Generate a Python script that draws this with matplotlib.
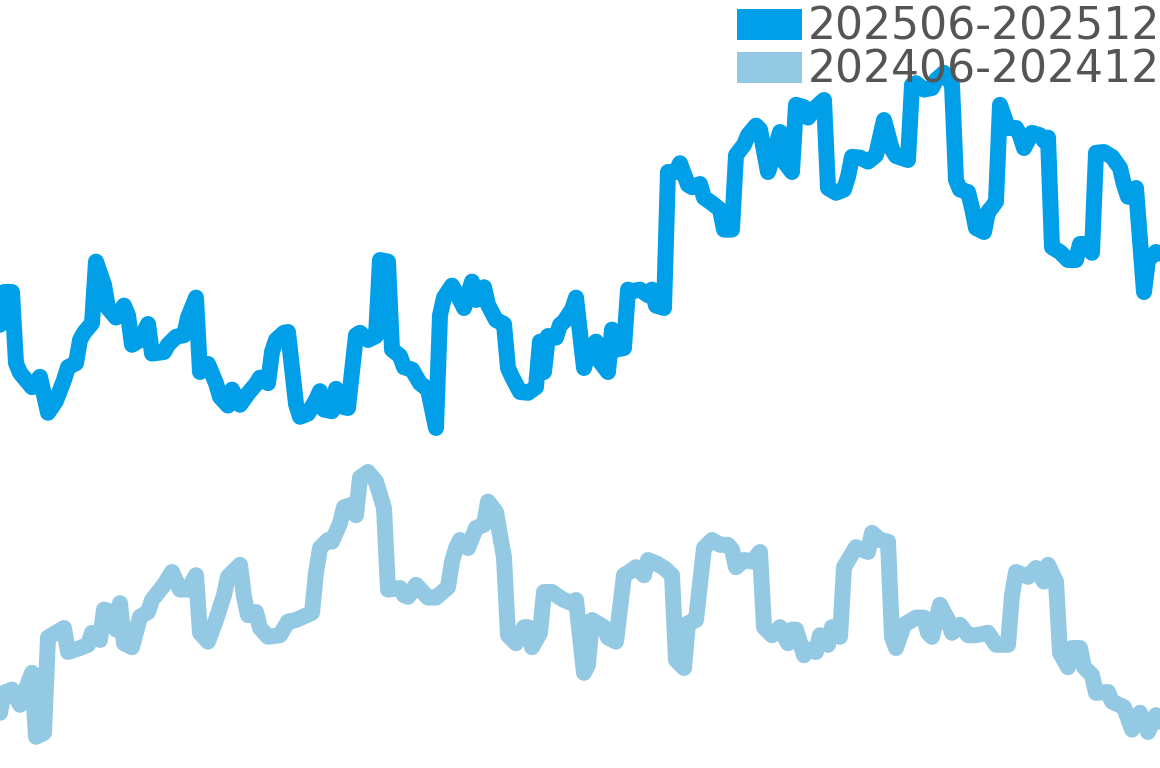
import matplotlib
matplotlib.use("Agg")
import matplotlib.pyplot as plt
from matplotlib.patches import Patch

# series labels
labels = ["202506-202512", "202406-202412"]

# 202506-202512 (day index, value)
days_2025 = [0,1,3,4,5,8,10,12,14,16,17,19,20,21,23,24,26,27,29,31,32,33,35,37,38,41,42,44,46,47,49,50,52,54,55,57,58,60,62,64,65,67,68,69,71,72,74,75,77,79,80,81,83,84,86,87,89,90,92,94,95,97,98,100,101,103,105,107,109,110,111,113,115,116,118,119,121,122,124,126,127,128,130,132,134,135,136,137,139,140,141,143,144,146,147,149,150,152,153,154,156,157,158,160,162,163,164,166,167,169,170,172,173,175,176,178,180,181,183,184,186,187,189,190,192,193,195,196,198,199,201,202,204,206,207,209,211,212,213,215,217,219,221,223,224,227,228,229,231,233,234,236,238,239,240,242,243,244,246,247,248,249,250,252,254,255,256,258,260,261,262,263,265,267,269,270,271,273,274,276,278,280,281,282,284,286,287,289,290]
vals_2025 = [55.4,59.5,59.5,50.6,49.4,47.6,48.9,44.4,45.9,48.5,50.1,50.6,53.5,54.4,55.6,63.3,60.4,57.5,56.3,57.8,56.6,52.9,53.5,55.5,51.8,52.0,52.9,53.9,54.1,56.3,58.8,49.5,50.5,48.1,46.4,45.3,47.3,45.4,46.8,48.0,48.8,48.1,52.0,53.5,54.4,54.5,45.5,43.9,44.3,46.0,47.1,44.8,44.6,47.4,45.1,45.0,54.1,54.4,53.5,54.0,63.5,63.3,52.3,51.5,50.1,49.8,48.1,47.3,42.5,56.6,58.8,60.3,58.5,57.5,60.8,58.5,60.1,57.9,56.0,55.5,50.0,48.9,47.0,46.9,47.6,53.3,49.5,54.0,53.8,55.4,55.8,57.3,58.8,50.0,51.9,53.3,50.8,49.5,54.8,52.3,52.5,59.8,59.6,59.8,59.1,59.8,57.8,57.5,74.5,74.5,75.6,72.9,72.6,73.0,71.3,70.6,69.8,67.3,67.3,76.6,77.9,79.1,80.3,79.8,74.5,76.0,79.5,75.8,74.5,82.9,82.6,81.3,82.6,83.5,72.5,71.9,72.3,73.9,76.4,76.3,75.8,76.6,81.0,77.3,76.5,76.0,85.4,85.6,84.8,85.0,86.0,86.9,85.4,73.5,72.3,72.0,70.0,67.5,67.0,69.5,70.1,70.8,82.9,80.0,80.0,79.1,77.5,79.4,79.1,78.4,78.8,65.1,64.5,63.5,63.5,65.5,65.5,64.4,76.9,77.0,76.4,75.0,72.9,71.4,72.5,59.5,63.5,64.5,64.3]

# 202406-202412 (day index, value)
days_2024 = [0,1,3,5,8,9,11,12,16,17,20,22,23,25,26,28,29,30,31,33,35,37,38,41,43,45,47,49,50,52,54,56,57,60,61,62,64,65,67,70,72,74,78,79,80,82,83,85,86,88,89,90,92,94,96,97,100,101,102,104,107,109,112,113,114,115,117,119,121,122,124,126,127,129,131,132,133,135,136,138,140,141,143,144,146,147,148,151,152,154,156,157,159,161,162,164,166,168,169,171,172,174,176,178,180,182,183,184,186,188,190,191,193,195,197,198,199,201,202,204,205,207,208,210,211,214,217,218,220,222,223,224,226,229,231,232,233,235,237,238,240,242,244,247,249,252,253,254,257,259,261,262,264,265,267,268,270,271,273,274,277,278,281,283,285,287,289,290]
vals_2024 = [6.9,9.4,9.8,7.9,11.9,3.9,4.4,16.3,17.5,14.5,15.0,15.4,16.9,16.0,19.8,19.5,17.3,20.6,15.6,15.1,18.9,19.5,21.0,22.9,24.5,22.3,22.3,24.1,16.9,15.8,18.5,21.6,23.9,25.4,21.4,19.1,19.5,17.5,16.4,16.6,18.3,18.5,19.4,24.4,27.5,28.5,28.3,30.6,32.6,32.9,31.6,36.3,37.0,35.8,32.5,22.3,22.5,21.6,21.4,22.9,21.3,21.3,22.6,25.8,27.5,28.5,27.5,30.0,30.4,33.3,32.0,26.3,16.6,15.6,17.6,17.6,15.1,16.9,22.0,22.0,21.3,21.0,20.6,21.0,11.9,12.9,18.5,17.6,16.3,15.8,24.1,24.4,25.1,24.1,26.0,25.6,25.0,24.1,13.5,12.5,18.1,18.5,27.5,28.5,27.9,27.9,27.3,25.1,26.0,25.8,27.0,17.6,16.6,17.6,15.6,17.3,17.3,14.1,14.8,14.5,16.6,15.4,17.6,16.4,25.1,27.6,27.0,29.4,28.5,28.3,16.4,15.0,17.9,18.8,18.8,16.9,16.4,20.4,18.5,16.9,17.9,16.6,16.6,16.9,15.4,15.4,21.6,24.5,23.9,25.0,23.3,25.4,23.3,14.4,12.6,15.0,15.0,12.6,11.6,9.4,9.5,8.3,7.6,4.8,6.9,4.5,6.6,5.8]

assert len(days_2025) == len(vals_2025), (len(days_2025), len(vals_2025))
assert len(days_2024) == len(vals_2024), (len(days_2024), len(vals_2024))

c_2025 = "#009FE8"
c_2024 = "#93C9E3"

fig = plt.figure(figsize=(11.6, 7.68), dpi=100)
ax = fig.add_axes([0, 0, 1, 1])
ax.plot(days_2024, vals_2024, color=c_2024, lw=11.5, solid_joinstyle="round", solid_capstyle="round")
ax.plot(days_2025, vals_2025, color=c_2025, lw=11.5, solid_joinstyle="round", solid_capstyle="round")
ax.set_xlim(0, 290)
ax.set_ylim(0, 96)
ax.axis("off")

handles = [Patch(facecolor=c_2025, edgecolor="none"), Patch(facecolor=c_2024, edgecolor="none")]
leg = ax.legend(handles, labels, loc="upper right", bbox_to_anchor=(1.0052, 1.0),
                frameon=False, fontsize=31.8, labelcolor="#555555",
                handlelength=1.45, handleheight=0.72, handletextpad=0.14,
                labelspacing=0.0, borderpad=0.135, borderaxespad=0.0)
fig.savefig("out.png", dpi=100)
